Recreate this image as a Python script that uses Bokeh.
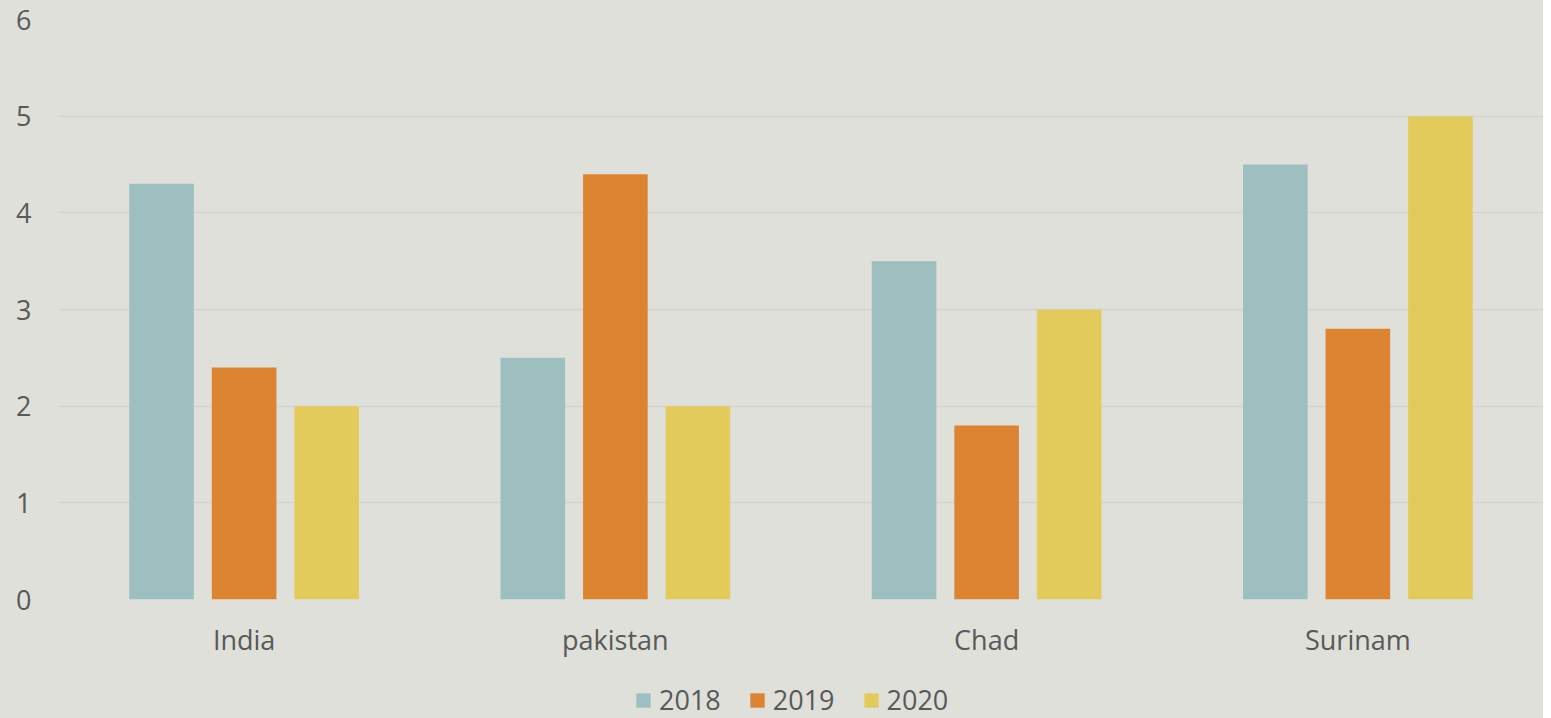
from bokeh.plotting import figure
from bokeh.layouts import column
from bokeh.models import FactorRange, Legend, LegendItem, ColumnDataSource, FixedTicker
from bokeh.transform import dodge
from bokeh.embed import file_html
from bokeh.resources import INLINE

countries = ["India", "pakistan", "Chad", "Surinam"]
years = ["2018", "2019", "2020"]
v2018 = [4.3, 2.5, 3.5, 4.5]
v2019 = [2.4, 4.4, 1.8, 2.8]
v2020 = [2.0, 2.0, 3.0, 5.0]
colors = ["#9EBFBF", "#DC8431", "#E3CB5B"]

src = ColumnDataSource(dict(c=countries, y2018=v2018, y2019=v2019, y2020=v2020))

BG = "#DFE0DA"
TXT = "#595959"
FONT = "Open Sans"

p = figure(width=1543, height=660, x_range=FactorRange(factors=countries, range_padding=0),
           y_range=(0, 6), output_backend="svg", toolbar_location=None,
           background_fill_color=BG, border_fill_color=BG,
           min_border_left=58, min_border_right=0, min_border_top=19, min_border_bottom=61)
p.outline_line_color = None

offs = [-0.2224, 0.0, 0.2224]
for col, off, c in zip(["y2018", "y2019", "y2020"], offs, colors):
    p.vbar(x=dodge("c", off, range=p.x_range), top=col, width=0.174, source=src,
           fill_color=c, line_color=None)

p.xgrid.grid_line_color = None
p.ygrid.grid_line_color = "#D3D4D0"
p.ygrid.grid_line_width = 1.5
p.yaxis.ticker = FixedTicker(ticks=[0, 1, 2, 3, 4, 5, 6])

for ax in (p.xaxis[0], p.yaxis[0]):
    ax.axis_line_color = None
    ax.major_tick_line_color = None
    ax.minor_tick_line_color = None
    ax.major_label_text_font = FONT
    ax.major_label_text_font_size = "27px"
    ax.major_label_text_color = TXT
p.yaxis.major_label_standoff = 21
p.xaxis.major_label_standoff = 15

# legend strip below the chart (legend swatches only; zero-height helper bars)
lg = figure(width=1543, height=58, x_range=(0, 1), y_range=(0, 1), output_backend="svg",
            toolbar_location=None, x_axis_location=None, y_axis_location=None,
            background_fill_color=BG, border_fill_color=BG,
            min_border_left=58, min_border_right=0, min_border_top=0, min_border_bottom=0)
lg.outline_line_color = None
lg.grid.visible = False
lrends = [lg.vbar(x=[0.5], top=[0], bottom=[0], width=0.01, fill_color=c, line_color=None)
          for c in colors]

legend = Legend(items=[LegendItem(label=y, renderers=[r]) for y, r in zip(years, lrends)],
                orientation="horizontal", location=(576, 0),
                background_fill_alpha=0, border_line_color=None,
                label_text_font=FONT, label_text_font_size="27px", label_text_color=TXT,
                glyph_width=18, glyph_height=18, label_standoff=7, spacing=27,
                padding=0, margin=0)
lg.add_layout(legend, "center")

layout = column(p, lg, spacing=0, styles={"background-color": BG})
open("out.html", "w").write(file_html(layout, INLINE))
